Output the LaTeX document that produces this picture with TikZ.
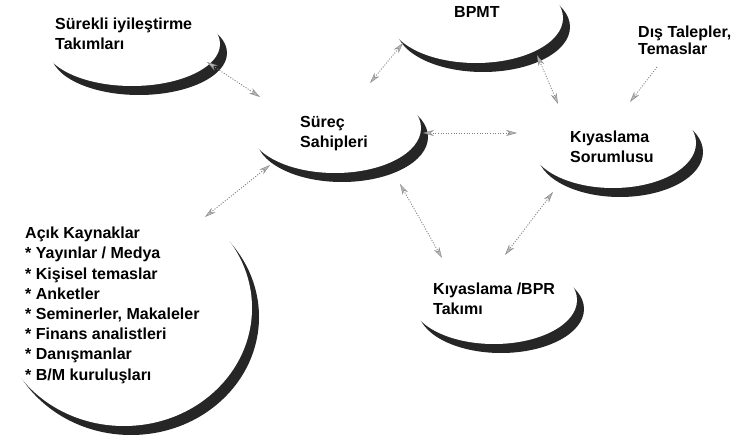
\documentclass[tikz,border=0pt]{standalone}
\usepackage{fontspec}
\setmainfont{Liberation Sans}
\usetikzlibrary{arrows.meta}
\begin{document}
\begin{tikzpicture}[x=1pt,y=-1pt,
  shadowfill/.style={fill=black!85},
  bodyfill/.style={fill=white},
  % the base anchor of a multi-line label sits on its last line
  lbl/.style={anchor=base west, align=left, inner sep=0pt,
    font=\bfseries\fontsize{16}{20}\selectfont},
  link/.style={draw=black!50, line width=0.9pt, dash pattern=on 1pt off 1.6pt,
    >={Stealth[length=11pt,width=6pt,color=black!45,fill=black!28,line width=0.5pt]}},
  pics/bubble/.style args={#1/#2}{code={
    \fill[shadowfill] (7,9) ellipse [x radius=#1, y radius=#2];
    \fill[bodyfill] (0,0) ellipse [x radius=#1, y radius=#2];
  }}
]
\useasboundingbox (0,0) rectangle (736,438);

% bubbles: dark shadow offset to the lower right, white body on top
\pic at (132,44)  {bubble=88/42};
\pic at (476,18)  {bubble=87/45};
\pic at (335,128) {bubble=86/45};
\pic at (613,143) {bubble=83/45};
\pic at (494,300) {bubble=83/44};
\pic at (124,308) {bubble=128/118};

% labels
\node[lbl] (surekli) at (55,50) {Sürekli iyileştirme\\Takımları};
\node[lbl] (bpmt) at (454,18) {BPMT};
\node[lbl] (surec) at (300,148) {Süreç\\Sahipleri};
\node[lbl] (sorumlu) at (570,163) {Kıyaslama\\Sorumlusu};
\node[lbl, font=\bfseries\fontsize{16}{17}\selectfont] (dis) at (638,55) {Dış Talepler,\\Temaslar};
\node[lbl] (bpr) at (433,314) {Kıyaslama /BPR\\Takımı};
\node[lbl, font=\bfseries\fontsize{16}{20.2}\selectfont] (acik) at (25,380)
  {Açık Kaynaklar\\* Yayınlar / Medya\\* Kişisel temaslar\\* Anketler\\
   * Seminerler, Makaleler\\* Finans analistleri\\* Danışmanlar\\* B/M kuruluşları};

% connector end points
\coordinate (a1) at (207,62);  \coordinate (a2) at (260,97);
\coordinate (b1) at (370,83);  \coordinate (b2) at (403,43);
\coordinate (c1) at (537,55);  \coordinate (c2) at (558,104);
\coordinate (d1) at (657,67);  \coordinate (d2) at (630,102);
\coordinate (e1) at (423,133); \coordinate (e2) at (517,133);
\coordinate (f1) at (205,217); \coordinate (f2) at (270,165);
\coordinate (g1) at (400,184); \coordinate (g2) at (442,258);
\coordinate (h1) at (553,192); \coordinate (h2) at (505,255);

% connectors
\draw[link,<->] (a1) -- (a2);
\draw[link,<->] (b1) -- (b2);
\draw[link,<->] (c1) -- (c2);
\draw[link,->]  (d1) -- (d2);
\draw[link,<->] (e1) -- (e2);
\draw[link,<->] (f1) -- (f2);
\draw[link,<->] (g1) -- (g2);
\draw[link,<->] (h1) -- (h2);
\end{tikzpicture}
\end{document}
